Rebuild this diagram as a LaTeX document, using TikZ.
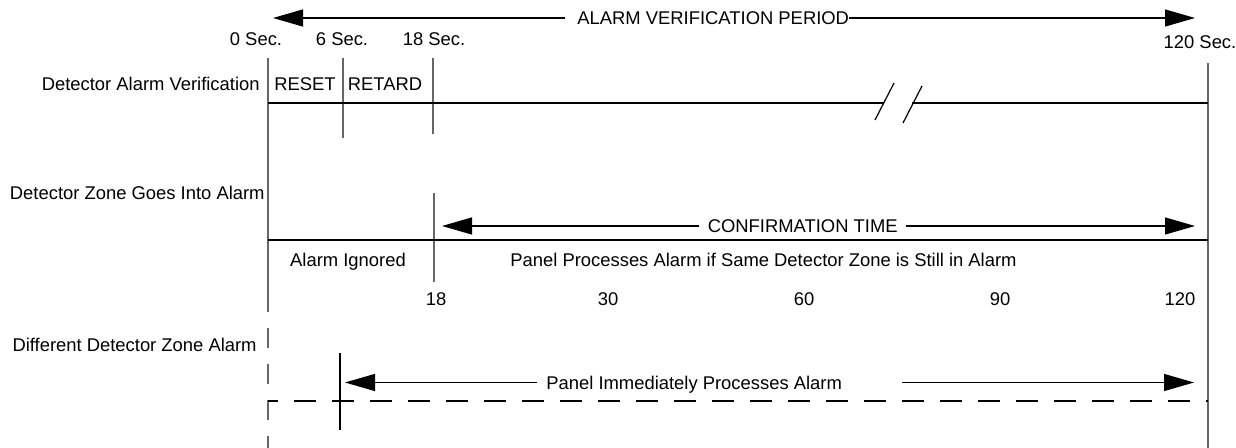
\documentclass[tikz,border=0pt]{standalone}
\usepackage{fontspec}
\setmainfont{Liberation Sans}
\usetikzlibrary{arrows.meta}

\begin{document}
\begin{tikzpicture}[
    x=0.5pt, y=-0.5pt,
    font=\fontsize{9.2}{11}\selectfont,
    lbl/.style={
        % text boxes sit on the middle of the capitals
        inner sep=0pt,
        text height=6.6pt,
        text depth=0pt},
    rule/.style={line width=0.7pt, black},
    tick/.style={line width=0.7pt, black!60},
    timearrow/.style={line width=0.6pt, -{Triangle[length=15pt,width=8.5pt]}},
    dashrule/.style={line width=0.7pt, dash pattern=on 11pt off 8pt, dash phase=6pt}
  ]
  \useasboundingbox (0,0) rectangle (1236,448);

  % time marks
  \coordinate (t0top) at (268,58);
  \coordinate (t0mid) at (268,312);
  \coordinate (t0dash) at (268,328);
  \coordinate (t0bot) at (268,448);
  \coordinate (t6top) at (343,58);
  \coordinate (t6bot) at (343,138);
  \coordinate (t18top) at (433,58);
  \coordinate (t18bot) at (433,134);
  \coordinate (t120top) at (1208,63);
  \coordinate (t120bot) at (1208,448);

  \node (sec0) [lbl] at (256,39) {0 Sec.};
  \node (sec6) [lbl] at (342,39) {6 Sec.};
  \node (sec18) [lbl] at (434,39) {18 Sec.};
  \node (sec120) [lbl] at (1200,42) {120 Sec.};

  \draw [tick] (t0top) -- (t0mid);
  \draw [tick, dash pattern=on 10pt off 8pt] (t0dash) -- (t0bot);
  \draw [tick] (t6top) -- (t6bot);
  \draw [tick] (t18top) -- (t18bot);
  \draw [tick] (t120top) -- (t120bot);

  % alarm verification period
  \coordinate (avpL) at (273,18);
  \coordinate (avpR) at (1195,18);
  \node (avp) [lbl, anchor=west] at (577,18) {ALARM VERIFICATION PERIOD};
  \draw [timearrow] ([xshift=-6pt]avp.west) -- (avpL);
  \draw [timearrow] (avp.east) -- (avpR);

  % row 1
  \node (verif) [lbl, anchor=east] at (260,84) {Detector Alarm Verification};
  \node (reset) [lbl] at (305,84) {RESET};
  \node (retard) [lbl] at (385,84) {RETARD};
  \coordinate (r1a) at (268,103);
  \coordinate (r1b) at (884,103);
  \coordinate (r1c) at (912,103);
  \coordinate (r1d) at (1208,103);
  \coordinate (brk1a) at (875,120);
  \coordinate (brk1b) at (894,83);
  \coordinate (brk2a) at (903,123);
  \coordinate (brk2b) at (922,86);
  \draw [rule] (r1a) -- (r1b);
  \draw [rule] (r1c) -- (r1d);
  \draw [rule, line width=0.6pt] (brk1a) -- (brk1b);
  \draw [rule, line width=0.6pt] (brk2a) -- (brk2b);

  % row 2
  \node (zone) [lbl, anchor=east] at (265,192.5) {Detector Zone Goes Into Alarm};
  \coordinate (c18top) at (434,193);
  \coordinate (c18bot) at (434,282);
  \coordinate (r2a) at (268,240);
  \coordinate (r2b) at (1208,240);
  \draw [tick] (c18top) -- (c18bot);
  \draw [rule] (r2a) -- (r2b);
  \coordinate (ctL) at (442,226);
  \coordinate (ctR) at (1195,226);
  \node (ct) [lbl, anchor=east] at (898,226) {CONFIRMATION TIME};
  \draw [timearrow] ([xshift=-4pt]ct.west) -- (ctL);
  \draw [timearrow] ([xshift=4pt]ct.east) -- (ctR);
  \node (ignored) [lbl] at (348,260) {Alarm Ignored};
  \node (process) [lbl, anchor=west] at (510,260) {Panel Processes Alarm if Same Detector Zone is Still in Alarm};
  \node (n18) [lbl] at (436,298.5) {18};
  \node (n30) [lbl] at (608,298.5) {30};
  \node (n60) [lbl] at (804,298.5) {60};
  \node (n90) [lbl] at (1000,298.5) {90};
  \node (n120) [lbl] at (1180,298.5) {120};

  % row 3
  \node (diff) [lbl, anchor=east] at (257,345) {Different Detector Zone Alarm};
  \coordinate (d6top) at (340,353);
  \coordinate (d6bot) at (340,430);
  \draw [rule] (d6top) -- (d6bot);
  \coordinate (r3a) at (268,401);
  \coordinate (r3b) at (1208,401);
  \draw [dashrule] (r3a) -- (r3b);
  \coordinate (piL) at (345,382.5);
  \coordinate (piR) at (1194,382.5);
  \node (pi) [lbl, anchor=west] at (546,382.5) {Panel Immediately Processes Alarm};
  \draw [timearrow] ([xshift=-4.5pt]pi.west) -- (piL);
  \draw [timearrow] ([xshift=30pt]pi.east) -- (piR);
\end{tikzpicture}
\end{document}
